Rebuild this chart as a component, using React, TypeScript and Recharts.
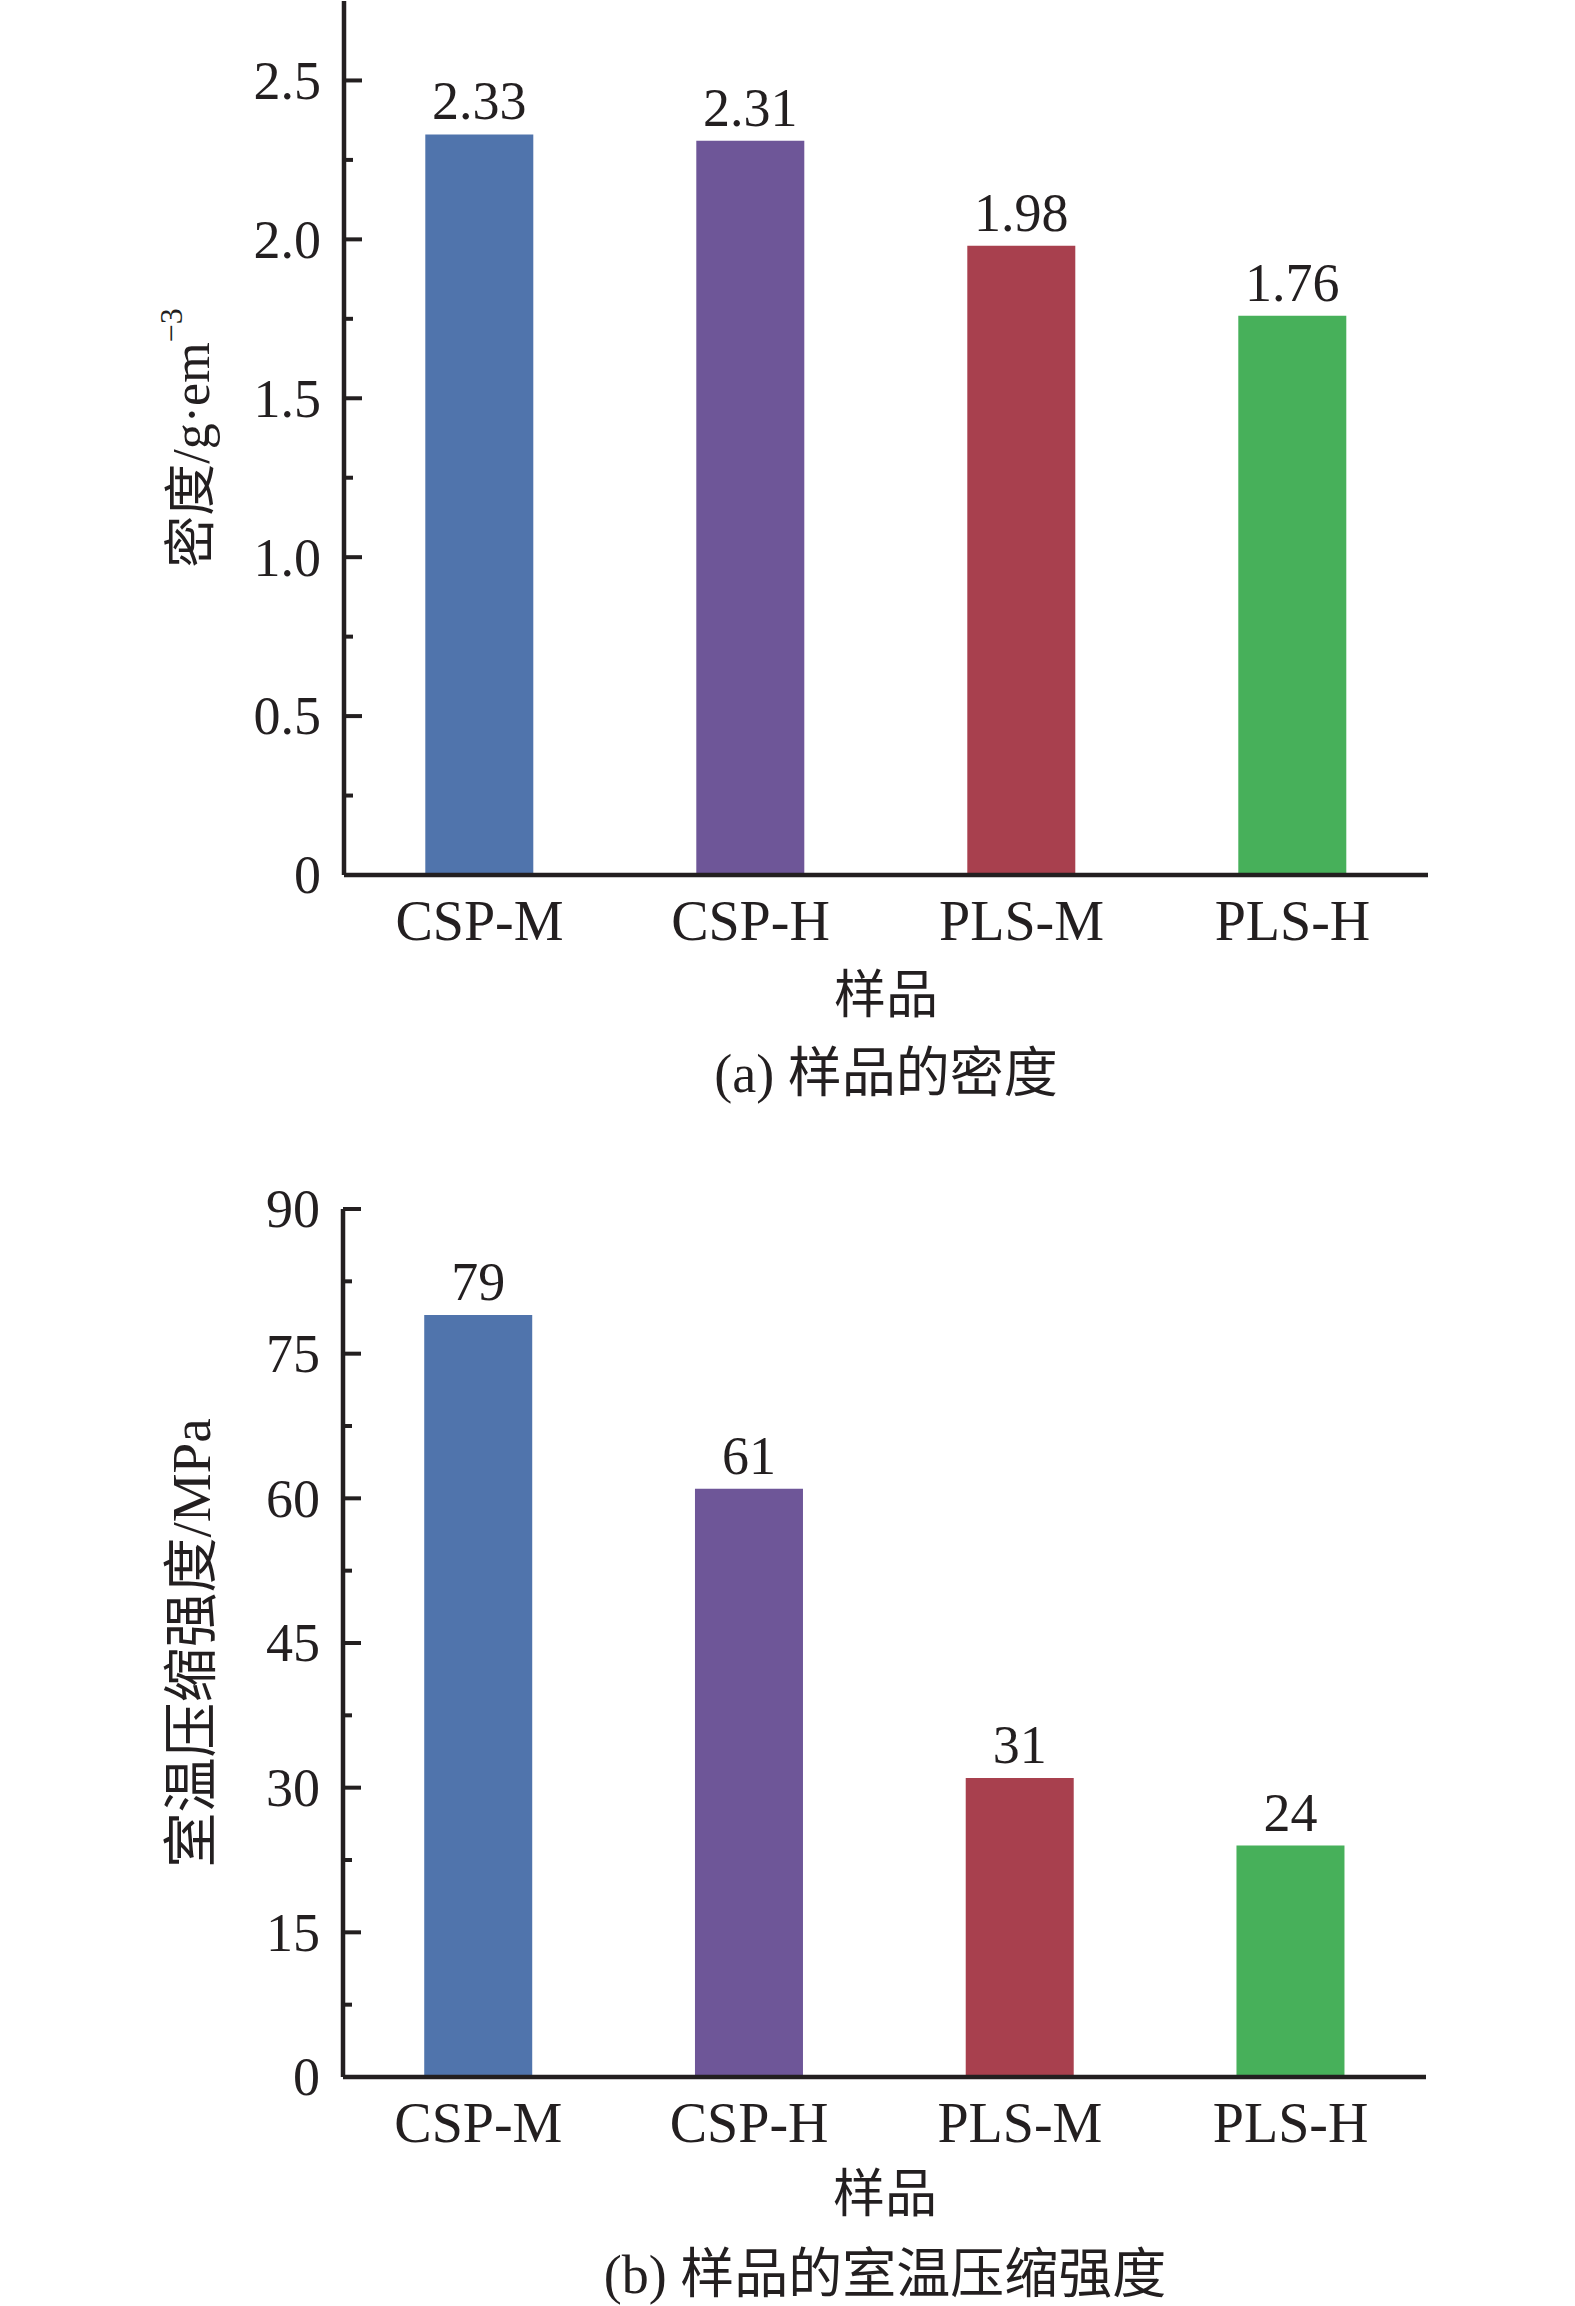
import { BarChart, Bar, XAxis, YAxis, Cell, LabelList } from "recharts";

const samples = ["CSP-M", "CSP-H", "PLS-M", "PLS-H"];
const density = [2.33, 2.31, 1.98, 1.76];
const strength = [79, 61, 31, 24];
const barColors = ["#5074ac", "#6e5698", "#a8404e", "#47b05a"];

const densityTicks = [0, 0.25, 0.5, 0.75, 1, 1.25, 1.5, 1.75, 2, 2.25, 2.5];
const densityMajor = [0, 0.5, 1, 1.5, 2, 2.5];
const strengthTicks = [0, 7.5, 15, 22.5, 30, 37.5, 45, 52.5, 60, 67.5, 75, 82.5, 90];
const strengthMajor = [0, 15, 30, 45, 60, 75, 90];

const SERIF = "'Liberation Serif', 'Times New Roman', 'Noto Sans CJK SC', serif";
const INK = "#231f20";
const TICK_GAP = 23;

// inward ticks: long ones carry a label, short ones are minor
function YTick(props: any) {
  const { x, y, payload, majors, fmt } = props;
  const ax = x + TICK_GAP;
  const major = majors.includes(payload.value);
  return (
    <g>
      <line x1={ax} x2={ax + (major ? 18 : 9)} y1={y} y2={y} stroke={INK} strokeWidth={4} />
      {major && (
        <text x={x} y={y} dy="0.34em" textAnchor="end" fontSize={54} fontFamily={SERIF} fill={INK}>
          {fmt(payload.value)}
        </text>
      )}
    </g>
  );
}

function YTitle({ viewBox, cx, main, sup, size }: any) {
  const cy = viewBox ? viewBox.y + viewBox.height / 2 : 440;
  return (
    <text
      x={cx}
      y={cy}
      transform={`rotate(-90 ${cx} ${cy})`}
      textAnchor="middle"
      dominantBaseline="central"
      fontSize={size}
      fontFamily={SERIF}
      fill={INK}
    >
      {main}
      {sup && (
        <tspan fontSize={32} dy={-20}>
          {sup}
        </tspan>
      )}
    </text>
  );
}

interface PanelProps {
  values: number[];
  height: number;
  plotHeight: number;
  margin: { top: number; right: number; left: number; bottom: number };
  yWidth: number;
  domain: [number, number];
  ticks: number[];
  majors: number[];
  fmt: (v: number) => string;
  yMain: string;
  ySup?: string;
  ySize: number;
}

function Panel(p: PanelProps) {
  const data = samples.map((name, i) => ({ name, v: p.values[i] }));
  return (
    <BarChart width={1575} height={p.height} data={data} margin={p.margin} barCategoryGap="30%">
      <XAxis
        dataKey="name"
        tickLine={false}
        tickSize={0}
        tickMargin={25}
        axisLine={{ stroke: INK, strokeWidth: 4.5 }}
        tick={{ fontSize: 56, fontFamily: SERIF, fill: INK }}
        interval={0}
        height={p.height - p.margin.top - p.margin.bottom - p.plotHeight}
      />
      <YAxis
        type="number"
        domain={p.domain}
        ticks={p.ticks}
        interval={0}
        width={p.yWidth}
        tickLine={false}
        tickSize={0}
        tickMargin={TICK_GAP}
        axisLine={{ stroke: INK, strokeWidth: 4.5 }}
        tick={<YTick majors={p.majors} fmt={p.fmt} />}
        label={{
          content: (lp: any) => (
            <YTitle viewBox={lp.viewBox} cx={191} main={p.yMain} sup={p.ySup} size={p.ySize} />
          ),
        }}
      />
      <Bar dataKey="v" isAnimationActive={false}>
        {data.map((d, i) => (
          <Cell key={d.name} fill={barColors[i]} />
        ))}
        <LabelList dataKey="v" position="top" offset={15} fontSize={54} fontFamily={SERIF} fill={INK} />
      </Bar>
    </BarChart>
  );
}

const caption: React.CSSProperties = {
  position: "absolute",
  textAlign: "center",
  fontFamily: SERIF,
  color: INK,
  lineHeight: 1,
  whiteSpace: "nowrap",
};

export default function App() {
  return (
    <div style={{ position: "absolute", left: 0, top: 0, width: 1575, height: 2306, background: "#fff" }}>
      <div style={{ position: "absolute", left: 0, top: 0 }}>
        <Panel
          values={density}
          height={1150}
          plotHeight={874}
          margin={{ top: 1, right: 147, left: 0, bottom: 0 }}
          yWidth={344}
          domain={[0, 2.75]}
          ticks={densityTicks}
          majors={densityMajor}
          fmt={(v) => (v === 0 ? "0" : v.toFixed(1))}
          yMain="密度/g·em"
          ySup="−3"
          ySize={52}
        />
      </div>
      <div style={{ ...caption, left: 586, width: 600, top: 970, fontSize: 52 }}>样品</div>
      <div style={{ ...caption, left: 586, width: 600, top: 1047, fontSize: 54 }}>(a) 样品的密度</div>

      <div style={{ position: "absolute", left: 0, top: 1150 }}>
        <Panel
          values={strength}
          height={1156}
          plotHeight={868}
          margin={{ top: 59, right: 149, left: 0, bottom: 0 }}
          yWidth={343}
          domain={[0, 90]}
          ticks={strengthTicks}
          majors={strengthMajor}
          fmt={(v) => String(v)}
          yMain="室温压缩强度/MPa"
          ySize={55}
        />
      </div>
      <div style={{ ...caption, left: 485, width: 800, top: 2169, fontSize: 52 }}>样品</div>
      <div style={{ ...caption, left: 485, width: 800, top: 2248, fontSize: 54 }}>(b) 样品的室温压缩强度</div>
    </div>
  );
}
